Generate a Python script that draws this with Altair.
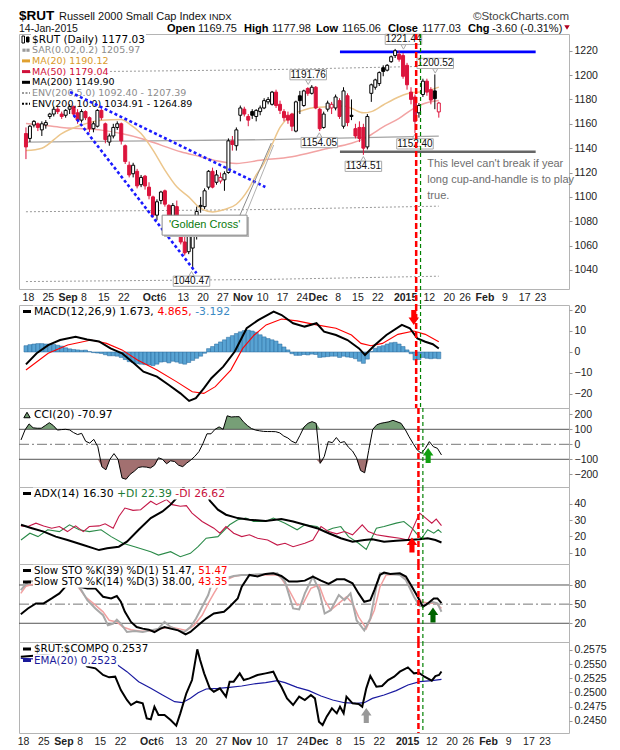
import altair as alt
import pandas as pd

# ------------------------------------------------------------------ data
# trading-day index: -1 = 15-Aug-2014 ... 103 = 14-Jan-2015
day_index = list(range(-1, 104))
opens = [1152, 1148, 1159, 1160, 1155, 1159, 1166, 1168, 1172, 1168,
         1167, 1172, 1174, 1169, 1163, 1170, 1165, 1156, 1158, 1171,
         1160, 1145, 1150, 1157, 1160, 1142, 1126, 1119, 1121, 1110,
         1117, 1108, 1100, 1085, 1097, 1105, 1093, 1080, 1092, 1076,
         1063, 1055, 1058, 1070, 1092, 1092, 1108, 1121, 1112, 1113,
         1114, 1120, 1146, 1142, 1167, 1172, 1166, 1170, 1166, 1170,
         1173, 1178, 1176, 1186, 1176, 1170, 1167, 1168, 1154, 1183,
         1175, 1189, 1185, 1190, 1172, 1157, 1172, 1173, 1173, 1179,
         1158, 1183, 1167, 1156, 1157, 1157, 1141, 1185, 1190, 1193,
         1206, 1204, 1211, 1216, 1217, 1216, 1208, 1186, 1182, 1169,
         1184, 1195, 1188, 1187, 1169.75]
highs = [1157, 1159, 1163, 1161, 1162, 1163, 1169, 1174, 1174, 1170,
         1172, 1176, 1175, 1172, 1172, 1171, 1166, 1162, 1172, 1172,
         1161, 1152, 1160, 1162, 1161, 1143, 1129, 1128, 1123, 1118,
         1118, 1112, 1101, 1098, 1105, 1106, 1094, 1095, 1097, 1081,
         1068, 1071, 1082, 1092, 1100, 1107, 1122, 1124, 1122, 1120,
         1121, 1148, 1150, 1157, 1175, 1174, 1168, 1172, 1172, 1175,
         1181, 1182, 1187, 1188, 1179, 1172, 1170, 1169, 1179, 1187,
         1188, 1190, 1191.76, 1191, 1173, 1170, 1179, 1178, 1184, 1181,
         1190, 1185, 1180, 1160, 1162, 1160, 1168, 1193, 1197, 1203,
         1208, 1209, 1216, 1221.44, 1220, 1218, 1210, 1190, 1184, 1177,
         1197, 1197, 1190, 1200.52, 1177.98]
lows = [1131, 1145, 1157, 1154, 1150, 1156, 1164, 1166, 1168, 1164,
        1165, 1168, 1166, 1160, 1161, 1163, 1153, 1153, 1157, 1163,
        1144, 1142, 1148, 1155, 1143, 1127, 1116, 1116, 1107, 1108,
        1106, 1098, 1083, 1081, 1094, 1092, 1078, 1076, 1074, 1061,
        1052, 1053, 1040.47, 1065, 1087, 1090, 1106, 1107, 1110, 1111,
        1105, 1119, 1138, 1138, 1162, 1166, 1158, 1164, 1162, 1167,
        1172, 1176, 1175, 1173, 1168, 1162, 1160, 1154, 1153, 1168,
        1174, 1183, 1184, 1172, 1154.05, 1156, 1170, 1168, 1171, 1164,
        1156, 1158, 1163, 1148, 1145, 1134.51, 1139, 1178, 1188, 1191,
        1199, 1203, 1210, 1214, 1211, 1197, 1188, 1176, 1152.40, 1165,
        1182, 1183, 1176, 1172, 1165.06]
closes = [1141, 1158, 1162, 1157, 1160, 1161, 1168, 1172, 1170, 1166,
          1171, 1174, 1168, 1163, 1170, 1165, 1156, 1160, 1171, 1165,
          1147, 1150, 1157, 1160, 1146, 1129, 1118, 1126, 1109, 1116,
          1109, 1101, 1085, 1096, 1104, 1094, 1080, 1093, 1077, 1063,
          1054, 1068, 1078, 1088, 1093, 1105, 1121, 1108, 1118, 1116,
          1119, 1146, 1143, 1155, 1173, 1168, 1163, 1167, 1171, 1173,
          1179, 1180, 1186, 1175, 1171, 1165, 1163, 1158, 1178, 1179,
          1187, 1185, 1190, 1173, 1156, 1168, 1177, 1176, 1182, 1166,
          1187, 1161, 1166, 1150, 1148, 1140, 1166, 1192, 1196, 1202,
          1203, 1208, 1215, 1220, 1213, 1199, 1192, 1180, 1162, 1175,
          1195, 1186, 1179.5, 1180.63, 1177.03]

ma20_i = [-1, 3, 8, 13, 18, 23, 25, 28, 31, 34, 37, 40, 43, 46, 49, 52, 55, 57, 59, 61,
          63, 65, 69, 72, 75, 79, 81, 84, 86, 89, 93, 96, 99, 103]
ma20_v = [1138, 1140, 1152, 1159, 1163, 1163.5, 1160, 1152, 1138.4, 1122, 1108.3, 1100, 1090.5,
          1087.7, 1089.7, 1094, 1106, 1118, 1128, 1143, 1157, 1165, 1171.3, 1173.5, 1174, 1174.6,
          1172.7, 1169, 1170, 1175.4, 1182.2, 1185.5, 1186.3, 1190.12]
ma50_i = [-1, 3, 8, 13, 18, 23, 28, 33, 38, 43, 47, 52, 58, 66, 75, 81, 85, 89, 93, 96, 99, 103]
ma50_v = [1160.3, 1159, 1157, 1156, 1154.8, 1152, 1148, 1142.5, 1137, 1133, 1129.6, 1127.5,
          1130, 1133, 1139.8, 1144, 1149.3, 1157.5, 1164.4, 1171.3, 1176.2, 1179.04]
ma200_i = [-1, 30, 60, 90, 103]
ma200_v = [1145, 1146, 1147, 1149, 1149.9]
env5_up = [1202.3, 1203.3, 1204.4, 1206.5, 1207.39]
env5_lo = [1087.8, 1088.7, 1089.7, 1091.6, 1092.40]
env10_lo = [1030.5, 1031.4, 1032.3, 1034.1, 1034.91]

macd_i = [-1, 1.7, 4.6, 7.6, 11.5, 14.4, 17.4, 20.3, 23.2, 26.2, 28.6, 32, 35, 37.9, 40.1, 41.8,
          43.8, 45.7, 48.7, 51.6, 54.6, 57.5, 61.4, 63.4, 66.3, 69.2, 72.2, 74.1, 77.1, 80, 82.9,
          84.4, 86.9, 89.8, 93.7, 95.7, 97.6, 99.6, 101.5, 103]
macd_v = [-5.9, -0.6, 3.3, 5.7, 7.3, 6.0, 5.0, 1.7, -0.6, -5.4, -9.4, -11.7, -15.7, -19.7, -23.3,
          -22.0, -17.3, -12.5, -7.0, 0.2, 11.3, 15.2, 19.2, 17.6, 13.7, 12.1, 13.7, 9.7, 8.1, 5.7,
          1.7, -1.4, 3.3, 8.1, 12.9, 11.3, 6.5, 4.9, 3.7, 1.673]
sig_i = [-1, 4.6, 9.5, 15.4, 19.3, 23.2, 27.1, 32.0, 36.9, 40.9, 43.8, 46.7, 50.6, 53.6, 56.5,
         59.5, 63.4, 67.3, 72.2, 77.1, 81.0, 83.4, 85.9, 88.8, 92.7, 96.7, 99.6, 103]
sig_v = [-8.6, -0.6, 3.3, 5.7, 4.1, 1.0, -3.8, -8.6, -14.1, -18.9, -19.7, -16.5, -8.6, 1.7, 8.1,
         12.9, 15.7, 14.8, 12.9, 11.3, 8.1, 4.1, 3.0, 4.1, 8.4, 10.0, 8.4, 4.865]
hist_v = [3.0, 3.5, 3.8, 4.0, 4.0, 3.8, 3.8, 3.6, 3.2, 2.8,
          2.0, 1.5, 1.2, 1.0, 0.8, 0.9, 0.2, -0.3, -0.5, -0.7,
          -1.3, -1.8, -1.8, -2.0, -2.6, -3.6, -4.6, -5.0, -5.6, -5.8,
          -6.0, -6.2, -6.5, -5.8, -4.8, -4.6, -5.2, -4.4, -4.8, -5.4,
          -5.8, -5.0, -4.0, -3.0, -2.0, -0.6, 1.6, 2.6, 3.8, 4.8,
          5.8, 7.0, 7.8, 8.8, 9.6, 10.2, 10.4, 10.0, 9.4, 8.2,
          7.2, 6.4, 5.8, 5.2, 3.8, 2.4, 1.0, -0.8, -1.6, -1.6,
          -1.2, -1.4, -1.0, -1.2, -2.6, -2.4, -2.2, -2.0, -2.0, -2.6,
          -2.0, -2.4, -2.6, -3.2, -4.4, -5.4, -3.4, 0.2, 1.8, 2.6,
          3.0, 3.8, 4.4, 4.6, 3.8, 2.6, 1.0, -0.8, -3.8, -3.6,
          -2.6, -3.0, -3.2, -3.0, -3.19]

cci_v = [29, 96, 136, 110, 107, 107, 125, 144, 125, 95,
         98, 100, 96, 78, 65, 73, 20, 8, 33, -16,
         -150, -170, -100, -62, -100, -225, -233, -200, -180, -155,
         -150, -152, -158, -140, -90, -100, -130, -110, -115, -140,
         -149, -125, -105, -80, -49, 5, 70, 70, 100, 116,
         100, 190, 182, 184, 184, 150, 125, 105, 95, 90,
         86, 85, 85, 84, 76, 55, 42, 20, 8, 60,
         115, 140, 151, 140, -127, -82, 18, 11, 45, 11,
         18, -20, -45, -90, -175, -190, -40, 100, 130, 140,
         145, 150, 160, 150, 140, 100, 50, 5, -38, -60,
         -27, 18, -16, -27, -71]

adx_i = [-1, 1.7, 4.6, 7.6, 10.5, 14.4, 18.3, 20.3, 23.2, 25.2, 28.1, 31.1, 34.0, 36.0, 37.9,
         39.1, 41.0, 43.0, 44.3, 45.7, 47.7, 49.7, 52.6, 55.5, 59.5, 63.4, 66.3, 69.2, 72.2, 75.1,
         78.1, 81.0, 83.9, 85.9, 88.8, 91.8, 94.7, 97.6, 99.6, 101.5, 103]
adx_v = [27.2, 25.1, 23.0, 19.9, 17.8, 14.7, 11.6, 12.7, 13.7, 16.8, 24.1, 31.3, 35.4, 39.6, 44.8,
         50.0, 55.0, 54.0, 50.0, 42.0, 36.5, 33.4, 31.3, 30.3, 29.6, 30.7, 29.2, 27.2, 25.1, 22.0,
         18.9, 16.8, 17.8, 18.3, 16.8, 17.4, 17.8, 18.3, 18.9, 17.8, 16.30]
pdi_i = [-1, 1.2, 3.2, 5.6, 8.5, 11.0, 13.4, 15.9, 18.8, 21.3, 24.2, 27.1, 31.1, 33.0, 36.0, 38.4,
         40.9, 42.8, 44.8, 47.7, 50.6, 52.6, 54.6, 56.5, 59.5, 61.4, 64.3, 67.3, 69.2, 72.2, 74.1,
         76.1, 78.1, 80.0, 82.5, 84.4, 86.9, 88.8, 91.8, 93.7, 95.7, 97.1, 98.1, 99.6, 101.1, 102.2, 103]
pdi_v = [17.8, 22.0, 19.9, 24.1, 23.0, 27.2, 24.1, 23.0, 24.1, 19.9, 15.8, 13.7, 10.6, 8.5, 10.6,
         7.5, 9.6, 13.7, 18.9, 19.9, 27.2, 30.3, 31.3, 29.2, 29.2, 31.3, 28.2, 24.1, 27.2, 26.1,
         23.0, 25.1, 26.1, 19.9, 15.8, 12.0, 25.1, 26.1, 28.2, 29.2, 25.1, 21.0, 18.9, 24.1, 22.0,
         24.1, 22.39]
mdi_i = [-1, 0.7, 2.7, 4.6, 6.6, 8.5, 10.5, 12.5, 14.4, 15.9, 18.3, 19.8, 21.8, 23.2, 24.7, 26.7,
         28.6, 31.1, 32.5, 35.0, 36.4, 38.4, 39.9, 41.3, 43.8, 46.7, 48.2, 49.7, 51.6, 53.6, 55.5,
         57.5, 60.0, 62.4, 64.3, 66.3, 69.2, 71.2, 73.2, 75.1, 77.1, 79.0, 81.0, 83.4, 84.9, 86.9,
         89.8, 92.7, 94.7, 96.2, 97.6, 99.1, 100.6, 101.7, 103]
mdi_v = [26.5, 26.1, 28.2, 26.5, 25.1, 26.1, 23.0, 26.5, 23.0, 26.1, 26.5, 27.8, 25.1, 32.3, 37.5,
         36.1, 36.5, 41.7, 39.6, 42.7, 39.6, 38.6, 39.0, 34.4, 29.2, 25.1, 22.0, 26.1, 22.0, 19.9,
         21.0, 18.9, 17.8, 14.7, 15.8, 13.7, 15.8, 17.8, 26.1, 23.0, 21.6, 23.0, 21.0, 27.2, 23.0,
         21.0, 19.9, 18.9, 17.8, 26.5, 34.4, 31.3, 28.2, 30.7, 26.62]

k39_i = [-1.05, 0.71, 2.7, 4.6, 6.6, 8.5, 10.0, 11.7, 13.4, 15.4, 17.4, 19.3, 21.3, 22.7, 23.7,
         24.7, 26.2, 27.6, 29.1, 30.6, 32.0, 33.5, 34.5, 36.0, 37.9, 39.7, 40.9, 42.8, 44.8, 46.7,
         49.2, 50.6, 52.6, 53.6, 55.5, 57.5, 59.5, 61.4, 63.4, 65.3, 67.3, 69.2, 71.2, 73.2, 75.1,
         77.1, 79.0, 81.0, 82.5, 83.9, 85.4, 86.4, 87.8, 88.8, 90.3, 92.7, 94.2, 95.7, 97.1, 98.4,
         99.6, 101.1, 102.0, 103]
k39_v = [34.2, 43.2, 51.1, 51.1, 58.9, 66.8, 77.4, 86.8, 77.4, 74.7, 74.7, 61.6, 58.9, 62.6, 53.7,
         37.9, 22.1, 14.2, 11.6, 10.0, 6.3, 11.6, 14.2, 11.6, 8.9, 2.6, 6.3, 16.8, 27.4, 35.3,
         37.9, 45.8, 58.9, 77.4, 95.8, 93.2, 97.4, 98.4, 94.2, 85.3, 85.3, 86.8, 93.2, 86.8, 81.6,
         88.9, 88.9, 82.6, 66.8, 53.7, 56.3, 72.1, 95.8, 99.5, 97.4, 98.4, 93.2, 77.4, 61.6, 45.8,
         51.1, 58.9, 58.9, 51.47]
k14_i = [-1.05, 0.7, 4.6, 9.5, 12.0, 13.4, 15.4, 17.4, 19.3, 20.5, 21.8, 22.7, 23.7, 25.2, 27.1,
         29.1, 31.1, 33.0, 34.5, 36.0, 37.9, 39.4, 40.9, 42.3, 43.8, 45.3, 46.2, 47.7, 49.7, 51.6,
         53.6, 55.5, 59.5, 62.4, 64.3, 66.3, 67.8, 69.2, 71.2, 72.7, 74.1, 75.6, 77.6, 79.0, 80.5,
         82.0, 83.9, 85.4, 86.9, 87.8, 90.3, 92.7, 94.2, 96.2, 97.6, 99.1, 100.6, 102.0, 103]
k14_v = [72.0, 85.0, 87.9, 90.5, 87.9, 77.4, 56.3, 43.2, 32.6, 16.8, 19.5, 25.8, 19.5, 6.3, 7.9,
         6.3, 8.9, 11.6, 22.1, 14.2, 8.9, 6.3, 14.2, 27.4, 45.8, 64.2, 82.6, 87.9, 90.5, 94.2,
         95.8, 95.8, 97.4, 98.4, 85.3, 43.2, 41.6, 66.8, 93.2, 72.1, 35.3, 40.5, 64.2, 56.3, 66.8,
         24.7, 8.9, 27.4, 77.4, 98.4, 97.4, 95.8, 87.9, 61.6, 46.8, 48.4, 53.7, 51.1, 38.0]
d3_i = [-1.05, 0.2, 4.6, 9.5, 12.0, 13.4, 14.9, 16.9, 19.3, 20.8, 22.7, 24.2, 26.2, 28.6, 31.1,
        33.5, 36.0, 37.9, 39.9, 41.8, 43.8, 45.3, 46.7, 48.2, 49.7, 51.6, 53.6, 62.4, 63.4, 65.3,
        67.3, 68.8, 70.7, 72.7, 74.1, 75.6, 77.6, 79.5, 81.0, 82.5, 84.4, 86.4, 87.8, 89.3, 92.7,
        94.7, 96.7, 98.1, 100.1, 101.5, 103]
d3_v = [66.8, 78.0, 85.3, 90.5, 85.3, 74.7, 61.6, 51.1, 37.9, 24.7, 22.1, 14.2, 10.0, 7.4, 7.9,
        11.6, 14.2, 11.6, 8.9, 16.8, 32.6, 51.1, 66.8, 82.6, 87.9, 93.2, 95.8, 95.8, 90.5, 72.1,
        48.4, 51.1, 74.7, 80.0, 56.3, 40.5, 51.1, 61.6, 51.1, 30.0, 11.6, 40.5, 77.4, 95.8, 97.4,
        85.3, 66.8, 53.7, 51.1, 52.1, 43.35]

rat_i = [-1.05, 4.6, 9.5, 14.0, 15.4, 17.4, 19.3, 20.8, 22.3, 23.7, 25.2, 26.2, 27.6, 29.1, 30.1,
         31.1, 32.0, 33.0, 34.5, 36.0, 37.4, 38.4, 39.9, 41.3, 42.6, 43.3, 44.3, 45.7, 46.7, 48.2,
         49.7, 50.6, 51.6, 53.1, 54.1, 55.5, 57.5, 59.5, 61.4, 62.4, 63.4, 64.8, 66.3, 67.8, 69.2,
         70.7, 71.7, 72.7, 73.6, 74.6, 75.9, 77.1, 77.9, 78.8, 79.5, 81.0, 82.5, 83.4, 84.4, 85.4,
         86.9, 88.3, 89.8, 91.3, 92.7, 94.7, 96.2, 97.4, 98.8, 100.6, 101.5, 102.4, 103]
rat_v = [.25632, .25662, .25632, .25573, .25455, .25426, .25308, .25267, .25278, .25042, .24866,
         .24777, .24836, .24807, .24541, .24524, .24748, .24600, .24600, .24512, .24412, .24630,
         .24984, .25219, .25762, .25573, .25337, .25072, .25013, .25072, .24925, .25190, .25190,
         .25337, .25219, .25249, .25308, .25337, .25367, .25219, .25101, .24895, .24777, .24925,
         .24866, .24954, .24895, .24482, .24423, .24571, .24718, .24630, .24748, .24630, .24925,
         .24807, .24795, .24748, .25072, .25290, .25101, .25113, .25219, .25278, .25367, .25443,
         .25337, .25349, .25278, .25208, .25290, .25308, .2537]
ema_i = [-1.05, 9.5, 19.8, 22.3, 25.2, 28.1, 31.1, 34.0, 37.0, 38.9, 40.9, 42.8, 44.8, 47.7, 50.6,
         53.6, 56.5, 59.5, 62.4, 64.3, 67.3, 70.2, 73.2, 76.1, 79.0, 82.0, 83.9, 85.9, 88.8, 91.8,
         94.7, 97.6, 100.6, 103]
ema_v = [.25603, .25573, .25544, .25514, .25367, .25190, .25072, .24954, .24836, .24818, .24895,
         .24995, .25060, .25072, .25090, .25113, .25149, .25172, .25208, .25172, .25090, .25031,
         .24936, .24866, .24818, .24807, .24818, .24895, .24954, .25031, .25131, .25190, .25208, .2523]

# x-axis ticks (trading-day index of each labelled date)
tick_days = [0, 5, 10, 14, 19, 24, 31, 34, 39, 44, 49, 54, 59, 64, 69, 73, 78, 83, 88, 95, 101,
             106, 110, 115, 120, 125, 129]
tick_labels = ["18", "25", "Sep", "8", "15", "22", "Oct", "6", "13", "20", "27", "Nov", "10", "17",
               "24", "Dec", "8", "15", "22", "2015", "12", "20", "26", "Feb", "9", "17", "23"]
bold_labels = ["Sep", "Oct", "Nov", "Dec", "2015", "Feb"]

# annotations
price_lbl_i = [94.1, 102.1, 97.0, 84.0, 72.9, 70.1, 40.7]
price_lbl_p = [1229.3, 1209.6, 1143.5, 1125.1, 1144.6, 1200.3, 1030.8]
price_lbl_t = ["1221.44", "1200.52", "1152.40", "1134.51", "1154.05", "1191.76", "1040.47"]
price_lbl_dir = ["down", "down", "up", "up", "up", "down", "up"]
trend_i1 = [10.1, 11.0]; trend_p1 = [1186.1, 1167.2]
trend_i2 = [59.3, 41.96]; trend_p2 = [1108.1, 1037.3]
level_i1 = 78.1; level_i2 = 127.4
resist_level = 1219; support_level = 1137
note_lines = ["This level can't break if year", "long cup-and-handle is to play", "true."]
note_i = 100.1
note_p = [1127.0, 1113.9, 1101.0]
sell_day = 97.3
buy_day = 98.4

# ------------------------------------------------------------------ helpers
RED = "#dc143c"
W = 550
XD = [-1.495, 134.54]
XS = alt.Scale(domain=XD, nice=False, zero=False)

tick_vals = [d - 0.5 for d in tick_days]
vals_js = ",".join(str(v) for v in tick_vals)
labs_js = ",".join("'" + t + "'" for t in tick_labels)
bold_js = ",".join(str(v) for v, t in zip(tick_vals, tick_labels) if t in bold_labels)
XAXIS = alt.Axis(values=tick_vals, labelExpr=f"[{labs_js}][indexof([{vals_js}], datum.value)]",
                 labelFontWeight={"condition": {"test": f"indexof([{bold_js}], datum.value) >= 0",
                                                "value": "bold"}, "value": "normal"},
                 ticks=False, domain=False, grid=False, title=None, labelFont="Liberation Sans",
                 labelFontSize=10.5, labelColor="#222", labelPadding=3, labelOverlap=False,
                 labelFlush=False)

DV = {' ': .318, '$': .636, '%': .950, '(': .390, ')': .390, '+': .838, ',': .318, '-': .361,
      '.': .318, ':': .337, 'A': .684, 'C': .698, 'D': .770, 'E': .632, 'I': .295, 'K': .656,
      'M': .863, 'N': .748, 'O': .787, 'P': .603, 'Q': .787, 'R': .695, 'S': .635, 'T': .611,
      'U': .732, 'V': .684, 'X': .685, 'a': .613, 'i': .278, 'l': .278, 'o': .612, 'w': .818,
      'y': .592}
for ch in "0123456789":
    DV[ch] = .636


def tw(s, fs):
    return sum(DV.get(ch, 0.62) for ch in s) * fs


def yaxis(values, fmt):
    return alt.Axis(orient="right", values=values, format=fmt, title=None, grid=False, domain=False,
                    ticks=True, tickSize=3, tickColor="#999", labelFont="Liberation Sans",
                    labelFontSize=10.5, labelColor="#222", labelPadding=2, labelOverlap=False,
                    labelFlush=False)


def make_x(axis):
    def f(field):
        return alt.X(f"{field}:Q", scale=XS, axis=axis)
    return f


def make_y(dom, axis):
    sc = alt.Scale(domain=dom, nice=False, zero=False)

    def f(field):
        return alt.Y(f"{field}:Q", scale=sc, axis=axis)
    return f


def PX(f):
    return alt.X(f"{f}:Q", scale=None, axis=None)


def PY(f):
    return alt.Y(f"{f}:Q", scale=None, axis=None)


def legend(lines):
    trows, brows = [], []
    for x, y, fs, segs in lines:
        x0 = x
        for t, c in segs:
            trows.append(dict(px=x, py=y, t=t, c=c, fs=fs))
            x += tw(t, fs)
        brows.append(dict(x1=x0 - 1, x2=x + 1, y1=y - fs * 0.55, y2=y + fs * 0.55))
    box = alt.Chart(pd.DataFrame(brows)).mark_rect(color="white").encode(
        x=PX("x1"), x2=alt.X2("x2"), y=PY("y1"), y2=alt.Y2("y2"))
    txt = alt.Chart(pd.DataFrame(trows)).mark_text(align="left", baseline="middle",
                                                   font="DejaVu Sans").encode(
        x=PX("px"), y=PY("py"), text="t:N", color=alt.Color("c:N", scale=None),
        size=alt.Size("fs:Q", scale=None))
    return box, txt


def seg_layer(rows, width, dash=None):
    df = pd.DataFrame(rows, columns=["x1", "x2", "y", "c"])
    kw = dict(strokeWidth=width)
    if dash:
        kw["strokeDash"] = dash
    return alt.Chart(df).mark_rule(**kw).encode(x=PX("x1"), x2=alt.X2("x2"), y=PY("y"),
                                                color=alt.Color("c:N", scale=None))


def signal_lines(fx, H, extra=0):
    red = alt.Chart(pd.DataFrame({"i": [sell_day]})).mark_rule(
        color="#ff0000", strokeWidth=2.5, strokeDash=[6, 3]).encode(
        x=fx("i"), y=alt.value(0), y2=alt.value(H + extra))
    green = alt.Chart(pd.DataFrame({"i": [buy_day]})).mark_rule(
        color="#008000", strokeWidth=1.2, strokeDash=[4, 3]).encode(
        x=fx("i"), y=alt.value(0), y2=alt.value(H + extra))
    return [red, green]


UP = "M-0.34,1L0.34,1L0.34,0L0.7,0L0,-1L-0.7,0L-0.34,0Z"
DOWN = "M-0.34,-1L0.34,-1L0.34,0L0.7,0L0,1L-0.7,0L-0.34,0Z"


def arrow(fx, fy, i, v, color, shape):
    return alt.Chart(pd.DataFrame({"i": [i], "v": [v]})).mark_point(
        shape=shape, size=225, filled=True, color=color, opacity=1).encode(x=fx("i"), y=fy("v"))


def hline(fy, vals, color, width, dash=None):
    kw = dict(color=color, strokeWidth=width)
    if dash:
        kw["strokeDash"] = dash
    return alt.Chart(pd.DataFrame({"v": vals})).mark_rule(**kw).encode(y=fy("v"))


def line(fx, fy, xs, ys, color, width, **kw):
    return alt.Chart(pd.DataFrame({"i": xs, "v": ys})).mark_line(
        color=color, strokeWidth=width, **kw).encode(x=fx("i"), y=fy("v"))


NOFRAME = alt.ViewBackground(strokeOpacity=0)
LFS = 10.8   # lower-panel legend font size
LFS2 = 10.3  # two-line legends

# ------------------------------------------------------------------ header
hx = 16
HH = 26
h_reg = pd.DataFrame([
    dict(px=56 - hx, py=11.5, t="Russell 2000 Small Cap Index", c="#111", fs=11),
    dict(px=206 - hx, py=11.5, t="INDX", c="#111", fs=9.5),
    dict(px=0, py=23.5, t="14-Jan-2015", c="#111", fs=10.5),
    dict(px=195 - hx, py=23.5, t="1169.75", c="#111", fs=11),
    dict(px=269 - hx, py=23.5, t="1177.98", c="#111", fs=11),
    dict(px=339 - hx, py=23.5, t="1165.06", c="#111", fs=11),
    dict(px=419 - hx, py=23.5, t="1177.03", c="#111", fs=11),
    dict(px=489 - hx, py=23.5, t="-3.60 (-0.31%)", c="#111", fs=11),
])
h_bold = pd.DataFrame([
    dict(px=0, py=11.5, t="$RUT", c="#000", fs=13.5),
    dict(px=164 - hx, py=23.5, t="Open", c="#000", fs=11),
    dict(px=241 - hx, py=23.5, t="High", c="#000", fs=11),
    dict(px=313 - hx, py=23.5, t="Low", c="#000", fs=11),
    dict(px=385 - hx, py=23.5, t="Close", c="#000", fs=11),
    dict(px=465 - hx, py=23.5, t="Chg", c="#000", fs=11),
])
h_right = pd.DataFrame([dict(px=W, py=11.5, t="\u00a9StockCharts.com", c="#444", fs=11.5)])


def htext(df, weight="normal", align="left"):
    return alt.Chart(df).mark_text(align=align, baseline="alphabetic", font="Liberation Sans",
                                   fontWeight=weight).encode(
        x=PX("px"), y=PY("py"), text="t:N", color=alt.Color("c:N", scale=None),
        size=alt.Size("fs:Q", scale=None))


chg_tri = alt.Chart(pd.DataFrame({"px": [548], "py": [19.5]})).mark_point(
    shape="triangle-down", size=30, filled=True, color="#b00020", opacity=1).encode(
    x=PX("px"), y=PY("py"))
header = alt.layer(htext(h_reg), htext(h_bold, "bold"), htext(h_right, align="right"),
                   chg_tri).properties(width=W, height=HH, view=NOFRAME)

# ------------------------------------------------------------------ main price panel
MH = 255
mx = make_x(XAXIS)
my = make_y([1024.4, 1233.7], yaxis(list(range(1040, 1221, 20)), "d"))

prev = [None] + closes[:-1]
cols = [RED if (p is None or c < p) else "#000000" for c, p in zip(closes, prev)]
fills = ["white" if c > o else cl for o, c, cl in zip(opens, closes, cols)]
cdf = pd.DataFrame({"i": day_index, "o": opens, "h": highs, "l": lows, "c": closes,
                    "top": [max(a, b) for a, b in zip(opens, closes)],
                    "bot": [min(a, b) for a, b in zip(opens, closes)],
                    "col": cols, "fill": fills})

env_df = pd.DataFrame({"i": ma200_i, "up5": env5_up, "lo5": env5_lo, "lo10": env10_lo,
                       "ma": ma200_v})
env_layers = [alt.Chart(env_df).mark_line(color="#9a9a9a", strokeWidth=1, strokeDash=[2, 2]).encode(
    x=mx("i"), y=my(f)) for f in ["up5", "lo5", "lo10"]]
ma200_l = alt.Chart(env_df).mark_line(color="#a4a4a4", strokeWidth=1.3).encode(x=mx("i"), y=my("ma"))
ma50_l = line(mx, my, ma50_i, ma50_v, "#f2a3a3", 1.5, interpolate="monotone")
ma20_l = line(mx, my, ma20_i, ma20_v, "#ecc68c", 1.5, interpolate="monotone")

lev_df = pd.DataFrame({"i": [level_i1, level_i1], "i2": [level_i2, level_i2],
                       "v": [resist_level, support_level], "c": ["#0000ff", "#666666"]})
levels = alt.Chart(lev_df).mark_rule(strokeWidth=2.6).encode(
    x=mx("i"), x2=alt.X2("i2"), y=my("v"), color=alt.Color("c:N", scale=None))

wicks = alt.Chart(cdf).mark_rule(strokeWidth=1).encode(
    x=mx("i"), y=my("l"), y2=alt.Y2("h"), color=alt.Color("col:N", scale=None))
bodies = alt.Chart(cdf).mark_bar(size=3, strokeWidth=1).encode(
    x=mx("i"), y=my("bot"), y2=alt.Y2("top"), fill=alt.Fill("fill:N", scale=None),
    stroke=alt.Stroke("col:N", scale=None))

LY = [5.5, 16.2, 26.9, 37.6, 48.3, 59.0, 69.7]
m_box, m_txt = legend([
    (13, LY[0], 10.5, [("$RUT (Daily) 1177.03", "#000000")]),
    (13, LY[1], 9.5, [("SAR(0.02,0.2) 1205.97", "#8c8c8c")]),
    (13, LY[2], 9.5, [("MA(20) 1190.12", "#d99a2b")]),
    (13, LY[3], 9.5, [("MA(50) 1179.04", "#d0103a")]),
    (13, LY[4], 9.5, [("MA(200) 1149.90", "#000000")]),
    (13, LY[5], 9.5, [("ENV(200,5.0) 1092.40 - 1207.39", "#8c8c8c")]),
    (13, LY[6], 9.5, [("ENV(200,10.0) 1034.91 - 1264.89", "#000000")]),
])
m_marks = seg_layer([(3, 11, LY[2], "#e0a030"), (3, 11, LY[3], "#d0103a"),
                     (3, 11, LY[4], "#000000")], 3)
m_dots = seg_layer([(3, 11, LY[5], "#9a9a9a"), (3, 11, LY[6], "#000000")], 2, [2, 1.5])
sar_sq = alt.Chart(pd.DataFrame({"px": [5, 9], "py": [LY[1], LY[1]]})).mark_square(
    size=10, color="#9a9a9a", opacity=1).encode(x=PX("px"), y=PY("py"))
icon_df = pd.DataFrame({"x1": [3, 7.5], "x2": [5.5, 10], "y1": [LY[0] - 3.5, LY[0] - 2.5],
                        "y2": [LY[0] + 3.5, LY[0] + 2.5], "f": ["white", "#000000"]})
icon = alt.Chart(icon_df).mark_rect(stroke="#000", strokeWidth=1).encode(
    x=PX("x1"), x2=alt.X2("x2"), y=PY("y1"), y2=alt.Y2("y2"), fill=alt.Fill("f:N", scale=None))

tr_df = pd.DataFrame({"i": trend_i1, "p": trend_p1, "i2": trend_i2, "p2": trend_p2})
trends = alt.Chart(tr_df).mark_rule(color="#1a1aff", strokeWidth=2.6, strokeDash=[3, 2.5]).encode(
    x=mx("i"), y=my("p"), x2=alt.X2("i2"), y2=alt.Y2("p2"))

gc_df = pd.DataFrame({"i": [33.3], "i2": [54.7], "p": [1085.0], "p2": [1068.6]})
gc_sh = pd.DataFrame({"i": [33.8], "i2": [55.2], "p": [1083.4], "p2": [1067.0]})
gc_shadow = alt.Chart(gc_sh).mark_rect(color="#b8b8b8").encode(
    x=mx("i"), x2=alt.X2("i2"), y=my("p"), y2=alt.Y2("p2"))
gc_box = alt.Chart(gc_df).mark_rect(fill="white", stroke="#8a8a8a", strokeWidth=1).encode(
    x=mx("i"), x2=alt.X2("i2"), y=my("p"), y2=alt.Y2("p2"))
gc_txt = alt.Chart(pd.DataFrame({"i": [44.0], "p": [1076.8], "t": ["'Golden Cross'"]})).mark_text(
    font="Liberation Sans", fontSize=11, color="#0a7a0a", baseline="middle").encode(
    x=mx("i"), y=my("p"), text="t:N")
call_df = pd.DataFrame({"i": [52.9, 54.3], "p": [1085.0, 1085.0], "i2": [60.8, 61.4],
                        "p2": [1144.2, 1142.5], "c": ["#8a8a8a", "#b0b0b0"]})
callout = alt.Chart(call_df).mark_rule(strokeWidth=1).encode(
    x=mx("i"), y=my("p"), x2=alt.X2("i2"), y2=alt.Y2("p2"), color=alt.Color("c:N", scale=None))

pl = pd.DataFrame({"i": price_lbl_i, "p": price_lbl_p, "t": price_lbl_t, "d": price_lbl_dir})
pl["x1"] = pl["i"] - 4.6
pl["x2"] = pl["i"] + 4.6
pl["y1"] = pl["p"] - 4.2
pl["y2"] = pl["p"] + 4.2
pl["tp"] = [p - 6.2 if d == "down" else p + 6.2 for p, d in zip(pl["p"], pl["d"])]
pl_box = alt.Chart(pl).mark_rect(fill="white", stroke="#aaaaaa", strokeWidth=1).encode(
    x=mx("x1"), x2=alt.X2("x2"), y=my("y1"), y2=alt.Y2("y2"))
pl_down = alt.Chart(pl[pl["d"] == "down"]).mark_point(
    shape="triangle-down", size=26, filled=True, fill="white", stroke="#aaaaaa",
    strokeWidth=1, opacity=1).encode(x=mx("i"), y=my("tp"))
pl_up = alt.Chart(pl[pl["d"] == "up"]).mark_point(
    shape="triangle-up", size=26, filled=True, fill="white", stroke="#aaaaaa",
    strokeWidth=1, opacity=1).encode(x=mx("i"), y=my("tp"))
pl_txt = alt.Chart(pl).mark_text(font="Liberation Sans", fontSize=10, color="#111",
                                 baseline="middle").encode(x=mx("i"), y=my("p"), text="t:N")

note = alt.Chart(pd.DataFrame({"i": [note_i] * 3, "p": note_p, "t": note_lines})).mark_text(
    font="Liberation Sans", fontSize=11, color="#6e6e6e", align="left", baseline="middle").encode(
    x=mx("i"), y=my("p"), text="t:N")

main = alt.layer(*env_layers, ma200_l, ma50_l, ma20_l, m_box, levels, wicks, bodies, m_txt,
                 m_marks, m_dots, sar_sq, icon, trends, gc_shadow, gc_box, gc_txt, callout,
                 pl_box, pl_down, pl_up, pl_txt, note,
                 *signal_lines(mx, MH, 16)).properties(width=W, height=MH)

spacer = alt.Chart(pd.DataFrame({"a": [0]})).mark_point(opacity=0).properties(
    width=W, height=16, view=NOFRAME)

# ------------------------------------------------------------------ MACD
nx = make_x(None)
H1 = 103
fy1 = make_y([-26.67, 22.38], yaxis([-20, -10, 0, 10, 20], "d"))
hist_df = pd.DataFrame({"i": day_index, "h": hist_v, "z": [0] * len(day_index)})
hist = alt.Chart(hist_df).mark_bar(size=4, fill="#58a3d3", stroke="#24679a", strokeWidth=0.5).encode(
    x=nx("i"), y=fy1("h"), y2=alt.Y2("z"))
b1, t1 = legend([(15, 6.5, LFS, [("MACD(12,26,9) 1.673, ", "#000000"), ("4.865, ", "#ff0000"),
                                 ("-3.192", "#3b8ac4")])])
macd = alt.layer(hist, line(nx, fy1, sig_i, sig_v, "#ff0000", 1.1),
                 line(nx, fy1, macd_i, macd_v, "#000000", 2), b1, t1,
                 seg_layer([(4, 12, 6.5, "#000000")], 3),
                 arrow(nx, fy1, 96.7, 16.4, "#ff0000", DOWN),
                 *signal_lines(nx, H1)).properties(width=W, height=H1)

# ------------------------------------------------------------------ CCI
H2 = 79
fy2 = make_y([-284.7, 242], yaxis([-200, -100, 0, 100, 200], "d"))
cdf2 = pd.DataFrame({"i": day_index, "v": cci_v})
cdf2["hi"] = [max(v, 100) for v in cci_v]
cdf2["lo"] = [min(v, -100) for v in cci_v]
cdf2["c100"] = 100
cdf2["cm100"] = -100
cci_up = alt.Chart(cdf2).mark_area(color="#779f77", opacity=1).encode(
    x=nx("i"), y=fy2("hi"), y2=alt.Y2("c100"))
cci_dn = alt.Chart(cdf2).mark_area(color="#a27070", opacity=1).encode(
    x=nx("i"), y=fy2("lo"), y2=alt.Y2("cm100"))
b2, t2 = legend([(15, 7, LFS, [("CCI(20) -70.97", "#000000")])])
cci_icon = alt.Chart(pd.DataFrame({"px": [8], "py": [7]})).mark_point(
    shape="triangle-up", size=40, filled=True, fill="#6f9a6f", stroke="#000", strokeWidth=1,
    opacity=1).encode(x=PX("px"), y=PY("py"))
cci = alt.layer(cci_up, cci_dn, hline(fy2, [100, -100], "#555555", 1),
                hline(fy2, [0], "#777777", 1, [10, 3, 2, 3]),
                alt.Chart(cdf2).mark_line(color="#000000", strokeWidth=1).encode(x=nx("i"), y=fy2("v")),
                b2, t2, cci_icon, arrow(nx, fy2, 99.7, -75, "#11a011", UP),
                *signal_lines(nx, H2)).properties(width=W, height=H2)

# ------------------------------------------------------------------ ADX
H3 = 77
fy3 = make_y([3.03, 50.47], yaxis([10, 20, 30, 40], "d"))
b3, t3 = legend([(15, 6.5, LFS, [("ADX(14) 16.30 ", "#000000"), ("+DI 22.39 ", "#1e7b34"),
                                 ("-DI 26.62", "#c8103c")])])
adx = alt.layer(line(nx, fy3, pdi_i, pdi_v, "#2a8a48", 1.1),
                line(nx, fy3, mdi_i, mdi_v, "#c41848", 1.1),
                line(nx, fy3, adx_i, adx_v, "#000000", 2, clip=True),
                b3, t3, seg_layer([(4, 12, 6.5, "#000000")], 3),
                arrow(nx, fy3, 95.7, 14.7, "#ff0000", UP),
                *signal_lines(nx, H3)).properties(width=W, height=H3)

# ------------------------------------------------------------------ Slow STO
H4 = 78
fy4 = make_y([-9.34, 112.9], yaxis([20, 50, 80], "d"))
b4, t4 = legend([(15, 6.5, LFS2, [("Slow STO %K(39) %D(1) 51.47, ", "#000000"), ("51.47", "#ff0000")]),
                 (15, 18, LFS2, [("Slow STO %K(14) %D(3) 38.00, ", "#000000"), ("43.35", "#ff0000")])])
sto = alt.layer(hline(fy4, [80, 20], "#555555", 1), hline(fy4, [50], "#777777", 1, [10, 3, 2, 3]),
                line(nx, fy4, d3_i, d3_v, "#f2a0a0", 1.5),
                line(nx, fy4, k14_i, k14_v, "#a8a8a8", 2),
                line(nx, fy4, k39_i, k39_v, "#000000", 2),
                b4, t4, seg_layer([(4, 12, 6.5, "#000000"), (4, 12, 18, "#000000")], 3),
                arrow(nx, fy4, 100.9, 33.0, "#006400", UP),
                *signal_lines(nx, H4)).properties(width=W, height=H4)

# ------------------------------------------------------------------ $RUT:$COMPQ
H5 = 91
bx = make_x(XAXIS)
fy5 = make_y([0.242825, 0.258914], yaxis([0.2450, 0.2475, 0.2500, 0.2525, 0.2550, 0.2575], ".4f"))
b5, t5 = legend([(15, 7, LFS2, [("$RUT:$COMPQ 0.2537", "#000000")]),
                 (15, 18.5, LFS2, [("EMA(20) 0.2523", "#1a1a9a")])])
comp = alt.layer(line(bx, fy5, ema_i, ema_v, "#1a1aa0", 1.2),
                 line(bx, fy5, rat_i, rat_v, "#000000", 2),
                 b5, t5, seg_layer([(4, 12, 7, "#000000"), (4, 12, 18.5, "#1a1a9a")], 3),
                 arrow(bx, fy5, 84.4, 0.24592, "#999999", UP),
                 *signal_lines(bx, H5)).properties(width=W, height=H5)

chart = alt.vconcat(header, main, spacer, macd, cci, adx, sto, comp, spacing=0,
                    bounds="flush").properties(
    padding={"left": 8, "top": 0, "right": 4, "bottom": 0},
    background="white").configure_view(stroke="#b4b4b4", strokeWidth=1)

chart.save("out.html", embed_options={"renderer": "svg", "actions": False})
